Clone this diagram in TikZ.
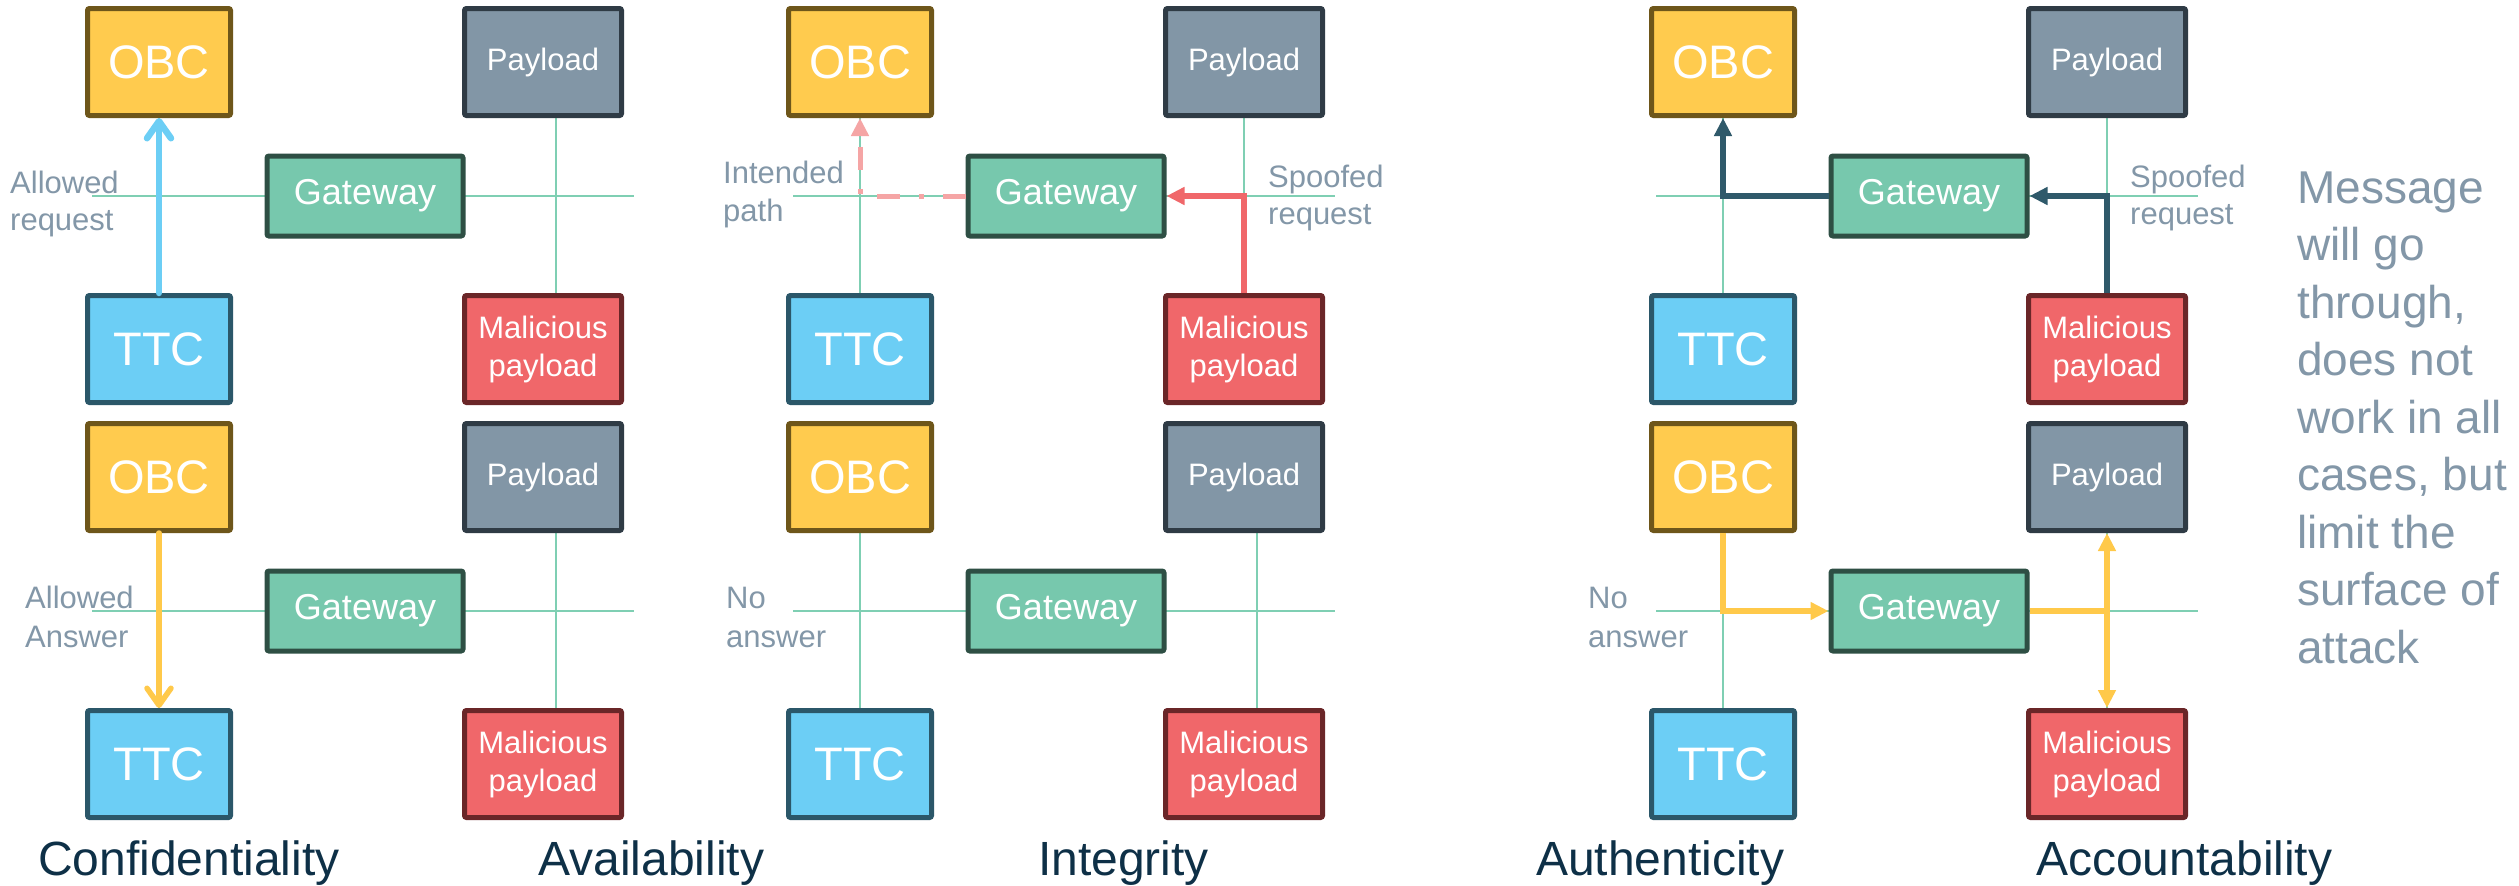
\documentclass[tikz,border=0pt]{standalone}
\usepackage{fontspec}
\setmainfont{Liberation Sans}
\usetikzlibrary{arrows.meta}
\pgfdeclarelayer{bg}
\pgfsetlayers{bg,main}

% box colours
\definecolor{obcfill}{RGB}{255,203,78}
\definecolor{obcdraw}{RGB}{110,86,26}
\definecolor{payfill}{RGB}{130,150,166}
\definecolor{paydraw}{RGB}{47,59,69}
\definecolor{gwfill}{RGB}{119,200,173}
\definecolor{gwdraw}{RGB}{46,79,68}
\definecolor{ttcfill}{RGB}{108,206,245}
\definecolor{ttcdraw}{RGB}{43,87,105}
\definecolor{malfill}{RGB}{240,103,106}
\definecolor{maldraw}{RGB}{106,38,40}
% lines and text
\definecolor{buscol}{RGB}{127,207,179}
\definecolor{lblcol}{RGB}{131,151,168}
\definecolor{titlecol}{RGB}{14,48,71}
\definecolor{arryellow}{RGB}{255,201,74}
\definecolor{arrpink}{RGB}{245,165,165}
\definecolor{arrdark}{RGB}{47,89,106}

\newcommand\setfs[2]{\fontsize{#1}{#2}\selectfont}

\tikzset{
  box/.style={draw, line width=5pt, rounded corners=2pt, inner sep=0pt,
    text=white, align=center},
  obcbox/.style={box, fill=obcfill, draw=obcdraw, minimum width=143pt,
    minimum height=107pt, font=\setfs{47}{56}},
  ttcbox/.style={box, fill=ttcfill, draw=ttcdraw, minimum width=143pt,
    minimum height=107pt, font=\setfs{47}{56}},
  paybox/.style={box, fill=payfill, draw=paydraw, minimum width=157pt,
    minimum height=107pt, font=\setfs{31}{38}},
  malbox/.style={box, fill=malfill, draw=maldraw, minimum width=157pt,
    minimum height=107pt, font=\setfs{31}{38}},
  gwbox/.style={box, fill=gwfill, draw=gwdraw, minimum width=196pt,
    minimum height=80pt, font=\setfs{36}{43}},
  bus/.style={draw=buscol, line width=1.8pt},
  lbl/.style={anchor=base west, inner sep=0pt, text=lblcol, font=\setfs{31}{37}},
  msgline/.style={anchor=base west, inner sep=0pt, text=lblcol, font=\setfs{46}{57}},
  ttl/.style={anchor=base west, inner sep=0pt, text=titlecol, font=\setfs{48}{58}},
  flow/.style={line width=5.5pt},
  tri/.style={-{Triangle[length=18pt,width=17pt]}},
  barbtip/.style={-{Straight Barb[length=17pt,width=24pt,round]}},
  bluearr/.style={flow, draw=ttcfill, line width=6.5pt, line cap=round, barbtip},
  yelbarb/.style={flow, draw=arryellow, line cap=round, barbtip},
  redarr/.style={flow, draw=malfill, tri},
  pinkarr/.style={flow, line width=5pt, draw=arrpink,
    dash pattern=on 23pt off 19pt on 5pt off 19pt, tri},
  darkarr/.style={flow, draw=arrdark, tri},
  yelarr/.style={flow, draw=arryellow, tri},
  yelline/.style={flow, draw=arryellow},
}

% one network: OBC, payload, gateway, TTC, malicious payload and the bus ends
\newcommand\panel[3]{%
  \node[obcbox] (obc#1) at (#2,#3) {OBC};
  \node[paybox] (pay#1) at (#2+384,#3) {Payload};
  \node[gwbox]  (gw#1)  at (#2+206,#3+134) {Gateway};
  \node[ttcbox] (ttc#1) at (#2,#3+287) {TTC};
  \node[malbox] (mal#1) at (#2+384,#3+287) {Malicious\\payload};
  \coordinate (busL#1) at (#2-67,#3+134);
  \coordinate (busR#1) at (#2+475,#3+134);
}

\begin{document}
\begin{tikzpicture}[x=1pt,y=-1pt]
\useasboundingbox (0,0) rectangle (2519,886);

\panel{At}{159}{62}
\panel{Ab}{159}{477}
\panel{Bt}{860}{62}
\panel{Bb}{860}{477}
\panel{Ct}{1723}{62}
\panel{Cb}{1723}{477}

% thin bus lines behind the boxes
\begin{pgfonlayer}{bg}
  \fill[white] (0,0) rectangle (2519,886);
  \foreach \p in {At,Ab,Bt,Bb,Ct,Cb}{
    \draw[bus] (busL\p) -- (busR\p);
    \draw[bus] (obc\p.south) -- (ttc\p.north);
  }
  \foreach \p in {At,Ab,Bb}
    \draw[bus] ([xshift=13pt]pay\p.south) -- ([xshift=13pt]mal\p.north);
  \foreach \p in {Bt,Ct,Cb}
    \draw[bus] (pay\p.south) -- (mal\p.north);
\end{pgfonlayer}

% Confidentiality
\draw[bluearr] (ttcAt.north) -- (obcAt.south);
\draw[yelbarb] (obcAb.south) -- (ttcAb.north);

% Integrity
\draw[redarr] (malBt.north) |- (gwBt.east);
\draw[pinkarr] (gwBt.west) -| (obcBt.south);

% Authenticity
\draw[darkarr] (gwCt.west) -| (obcCt.south);
\draw[darkarr] (malCt.north) |- (gwCt.east);

% Accountability
\coordinate (jCb) at (malCb.north |- gwCb.east);
\draw[yelarr] (obcCb.south) |- (gwCb.west);
\draw[yelline] (gwCb.east) -- (jCb);
\draw[yelarr, {Triangle[length=18pt,width=17pt]}-{Triangle[length=18pt,width=17pt]}]
  (payCb.south) -- (malCb.north);

% side labels
\node[lbl] (lAt1) at (10,193) {Allowed};
\node[lbl] (lAt2) at (10,230) {request};
\node[lbl] (lAb1) at (25,608) {Allowed};
\node[lbl] (lAb2) at (25,647) {Answer};
\node[lbl] (lBt1) at (723,183) {Intended};
\node[lbl] (lBt2) at (723,221) {path};
\node[lbl] (lBt3) at (1268,187) {Spoofed};
\node[lbl] (lBt4) at (1268,224) {request};
\node[lbl] (lBb1) at (726,608) {No};
\node[lbl] (lBb2) at (726,647) {answer};
\node[lbl] (lCt1) at (2130,187) {Spoofed};
\node[lbl] (lCt2) at (2130,224) {request};
\node[lbl] (lCb1) at (1588,608) {No};
\node[lbl] (lCb2) at (1588,647) {answer};

% note on the right
\foreach \t [count=\i from 0] in {Message, will go, {through,}, does not,
    work in all, {cases, but}, limit the, surface of, attack}
  \node[msgline] (msg\i) at (2297,203+57.5*\i) {\t};

% property titles
\node[ttl] (tConf)  at (38,875)   {Confidentiality};
\node[ttl] (tAvail) at (538,875)  {Availability};
\node[ttl] (tInteg) at (1038,875) {Integrity};
\node[ttl] (tAuth)  at (1536,875) {Authenticity};
\node[ttl] (tAcc)   at (2036,875) {Accountability};
\end{tikzpicture}
\end{document}
